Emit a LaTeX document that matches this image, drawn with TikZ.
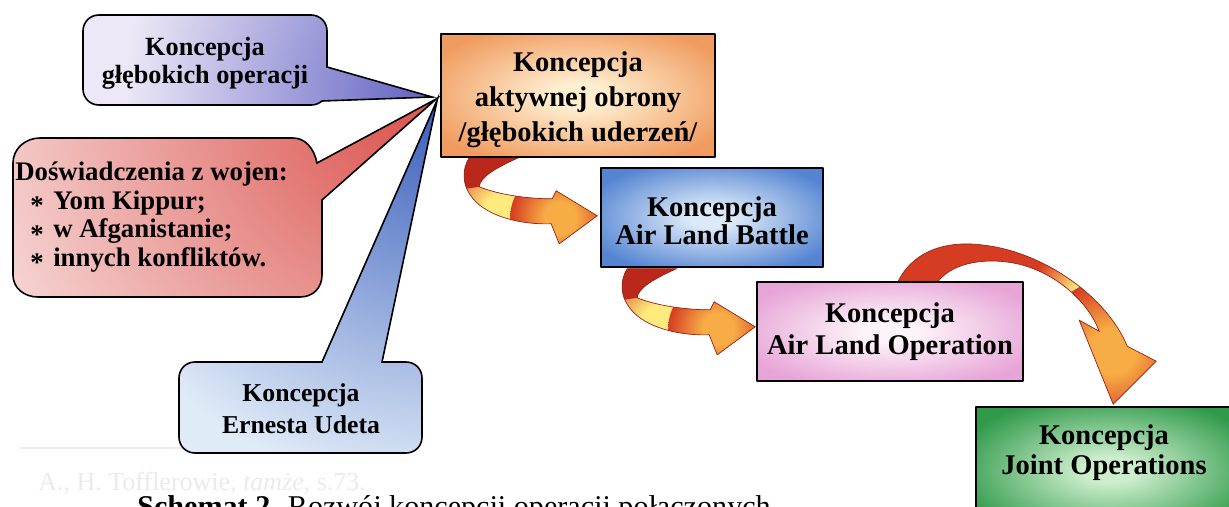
\documentclass[tikz,border=0pt]{standalone}
\usepackage{fontspec}
\setmainfont{Liberation Serif}
\usetikzlibrary{calc}
\pgfdeclarelayer{paper}
\pgfdeclarelayer{back}
\pgfsetlayers{paper,back,main}
\newlength\pxl
\setlength\pxl{0.75pt}

% box fills: light centre, saturated rim
\definecolor{orangeout}{RGB}{240,156,96}
\definecolor{orangein}{RGB}{255,238,208}
\definecolor{blueout}{RGB}{84,132,210}
\definecolor{bluein}{RGB}{220,233,249}
\definecolor{pinkout}{RGB}{231,164,215}
\definecolor{pinkin}{RGB}{253,244,249}
\definecolor{greenout}{RGB}{48,154,74}
\definecolor{greenin}{RGB}{205,238,205}
% callout fills
\definecolor{purplein}{RGB}{100,100,195}
\definecolor{purpleout}{RGB}{236,232,247}
\definecolor{redin}{RGB}{220,88,82}
\definecolor{redout}{RGB}{251,238,238}
\definecolor{udetin}{RGB}{55,92,186}
\definecolor{udetout}{RGB}{224,235,248}
% ribbon arrows
\definecolor{ribbonred}{RGB}{214,60,34}
\definecolor{ribbondark}{RGB}{186,40,28}
\definecolor{ribbonyellow}{RGB}{255,234,125}
\definecolor{ribbonorange}{RGB}{247,172,70}
\definecolor{ribbonedge}{RGB}{150,35,25}

% radial shadings; the shaded path's box maps to the 25bp circle
\pgfdeclareradialshading[glowin,glowout]{boxglow}{\pgfpoint{0bp}{0bp}}%
  {color(0bp)=(glowin); color(5bp)=(glowin); color(30bp)=(glowout); color(50bp)=(glowout)}
\pgfdeclareradialshading[glowin,glowout]{blob}{\pgfpoint{0bp}{0bp}}%
  {color(0bp)=(glowin); color(8bp)=(glowin); color(25bp)=(glowout); color(50bp)=(glowout)}
\pgfdeclareradialshading[sgin,sgout]{softglow}{\pgfpoint{0bp}{0bp}}%
  {color(0bp)=(sgin); color(25bp)=(sgout); color(50bp)=(sgout)}

% curved ribbon arrow going down, then right (local coordinates, px)
\newcommand\ribbonlow{(29,0) -- (78,0) .. controls (56,10) and (40,19) .. (39,29)
  .. controls (59,37) and (87,41) .. (112,41) -- (116,33) -- (157,58) -- (119,86) -- (111,66)
  .. controls (79,67) and (47,58) .. (33,41) .. controls (21,27) and (22,11) .. (29,0) -- cycle}
\newcommand\ribbonlowback{(29,0) -- (78,0) .. controls (56,10) and (40,19) .. (39,29)
  -- (25,31) .. controls (21,20) and (23,9) .. (29,0) -- cycle}
% arched ribbon arrow going up, over and down
\newcommand\ribbonarc{(142,0) .. controls (158,-32) and (193,-41) .. (228,-36)
  .. controls (288,-29) and (351,16) .. (371,65) -- (400,80) -- (357,123) -- (323,39) -- (343,50)
  .. controls (333,23) and (303,-7) .. (263,-17) .. controls (233,-24) and (198,-20) .. (182,0) -- cycle}
% callout outlines
\newcommand\purplebubble{(99,15) -- (311,15) .. controls (320,15) and (327,22) .. (327,31)
  -- (327,67) -- (tipP) -- (322,101) .. controls (318,104) and (315,105) .. (311,105)
  -- (99,105) .. controls (90,105) and (83,98) .. (83,89) -- (83,31)
  .. controls (83,22) and (90,15) .. (99,15) -- cycle}
\newcommand\redbubble{(40,138) -- (293,138) .. controls (305,138) and (314,148) .. (317,163)
  -- (tipR) -- (322,200) -- (322,275) .. controls (322,288) and (313,297) .. (300,297)
  -- (38,297) .. controls (24,297) and (13,288) .. (13,275) -- (13,163)
  .. controls (13,149) and (25,138) .. (40,138) -- cycle}
\newcommand\udetbubble{(195,362) -- (322,362) -- (tipB) -- (382,362) -- (406,362)
  .. controls (415,362) and (422,369) .. (422,378) -- (422,437)
  .. controls (422,446) and (415,453) .. (406,453) -- (195,453)
  .. controls (186,453) and (179,446) .. (179,437) -- (179,378)
  .. controls (179,369) and (186,362) .. (195,362) -- cycle}
\newcommand\bul{\hspace*{15\pxl}\makebox[23\pxl][l]{\raisebox{-0.2em}{*}}}

\begin{document}
\begin{tikzpicture}[x=0.75pt, y=-0.75pt, line join=round,
  boxglowcol/.style 2 args={/utils/exec={\colorlet{glowin}{#1}\colorlet{glowout}{#2}}},
  sglow/.style 2 args={shading=softglow, /utils/exec={\colorlet{sgin}{#1}\colorlet{sgout}{#2}}},
  cbox/.style={draw=black, line width=1.2pt, shade, shading=boxglow, align=center, inner sep=0pt},
  boxfont/.style={font=\fontsize{21.4pt}{#1}\selectfont\bfseries},
  bubble/.style={draw=black, line width=1.2pt},
  bubtext/.style={align=center, inner sep=0pt},
  ribbonline/.style={draw=ribbonedge, line width=0.5pt}]

\useasboundingbox (0,0) rectangle (1229,507);

\begin{pgfonlayer}{paper}
  \fill[white] (0,0) rectangle (1229,507);
  \draw[black!7, line width=0.8pt] (20,448) -- (340,448);
\end{pgfonlayer}

% concept boxes
\node[cbox, boxglowcol={orangein}{orangeout}, minimum width=274*\pxl, minimum height=123*\pxl,
  boxfont=26pt] (orangebox) at (578,95.5) {\rule{0pt}{28\pxl}Koncepcja\\aktywnej obrony\\/głębokich uderzeń/};
\node[cbox, boxglowcol={bluein}{blueout}, minimum width=222*\pxl, minimum height=99*\pxl,
  boxfont=21pt] (bluebox) at (712,217.5) {\rule{0pt}{27\pxl}Koncepcja\\Air Land Battle};
\node[cbox, boxglowcol={pinkin}{pinkout}, minimum width=266*\pxl, minimum height=99*\pxl,
  boxfont=24pt] (pinkbox) at (890,331.5) {Koncepcja\\Air Land Operation};
\node[cbox, boxglowcol={greenin}{greenout}, minimum width=266*\pxl, minimum height=126*\pxl]
  (greenbox) at (1109,470) {};
\node[bubtext, boxfont=22.5pt] (greentext) at (1104,453) {Koncepcja\\Joint Operations};

% callout tips meet at the left side of the first box
\coordinate (tipP) at ($(orangebox.west)+(-8,1.5)$);
\coordinate (tipR) at ($(orangebox.west)+(-4,3.5)$);
\coordinate (tipB) at ($(orangebox.west)+(-3,4.5)$);

\begin{pgfonlayer}{back}
  % callout: war experience
  \begin{scope}
    \clip \redbubble;
    \fill[redout] (0,90) rectangle (440,300);
    \shade[sglow={redin}{redout}] (400,110) circle (520);
  \end{scope}
  \draw[bubble] \redbubble;
  % callout: Udet
  \begin{scope}
    \clip \udetbubble;
    \fill[udetout] (170,90) rectangle (440,460);
    \shade[sglow={udetin}{udetout}] (437,100) circle (390);
  \end{scope}
  \draw[bubble] \udetbubble;
  % callout: deep operations
  \begin{scope}
    \clip \purplebubble;
    \fill[purpleout] (0,0) rectangle (440,110);
    \shade[sglow={purplein}{purpleout}] (425,95) circle (300);
  \end{scope}
  \draw[bubble] \purplebubble;

  % ribbon arrow: orange box -> blue box
  \begin{scope}[shift={(orangebox.south west)}]
    \begin{scope}
      \clip \ribbonlow;
      \fill[ribbonred] (0,-5) rectangle (170,95);
      \shade[shading=blob, boxglowcol={ribbonyellow}{ribbonred}] (64,58) circle (70);
      \shade[shading=blob, boxglowcol={ribbonorange}{ribbonred}] (120,60) circle (50);
      \fill[ribbondark] \ribbonlowback;
    \end{scope}
    \draw[ribbonline] \ribbonlow;
  \end{scope}
  % ribbon arrow: blue box -> pink box
  \begin{scope}[shift={($(bluebox.south west)+(-2,1)$)}]
    \begin{scope}
      \clip \ribbonlow;
      \fill[ribbonred] (0,-5) rectangle (170,95);
      \shade[shading=blob, boxglowcol={ribbonyellow}{ribbonred}] (64,58) circle (70);
      \shade[shading=blob, boxglowcol={ribbonorange}{ribbonred}] (120,60) circle (50);
      \fill[ribbondark] \ribbonlowback;
    \end{scope}
    \draw[ribbonline] \ribbonlow;
  \end{scope}
  % ribbon arrow: pink box -> green box
  \begin{scope}[shift={(pinkbox.north west)}]
    \begin{scope}
      \clip \ribbonarc;
      \fill[ribbonred] (130,-50) rectangle (410,130);
      \shade[shading=blob, boxglowcol={ribbonyellow}{ribbonred}] (333,22) circle (62);
      \shade[shading=blob, boxglowcol={ribbonorange}{ribbonred}] (356,70) circle (72);
    \end{scope}
    \draw[ribbonline] \ribbonarc;
  \end{scope}
\end{pgfonlayer}

% callout texts
\node[bubtext, font=\fontsize{19.7pt}{21pt}\selectfont\bfseries] (deepops) at (205,63)
  {Koncepcja\\głębokich operacji};
\node[anchor=north west, align=left, inner sep=0pt, font=\fontsize{20.1pt}{21.4pt}\selectfont\bfseries]
  (wars) at (15,162) {Doświadczenia z wojen:\\\bul Yom Kippur;\\\bul w Afganistanie;\\\bul innych konfliktów.};
\node[bubtext, font=\fontsize{19.3pt}{24pt}\selectfont\bfseries] (udet) at (301,409)
  {Koncepcja\\Ernesta Udeta};

% page text below the scheme
\begin{pgfonlayer}{paper}
  \node[anchor=base west, inner sep=0pt, text=black!8, font=\fontsize{19.5pt}{22pt}\selectfont]
    (fnote) at (38,490) {A., H. Tofflerowie, \textit{tamże}, s.73.};
\end{pgfonlayer}
\node[anchor=base west, inner sep=0pt, font=\fontsize{22.6pt}{26pt}\selectfont] (caption) at (137,516)
  {\textbf{Schemat 2.} Rozwój koncepcji operacji połączonych};
\end{tikzpicture}
\end{document}
